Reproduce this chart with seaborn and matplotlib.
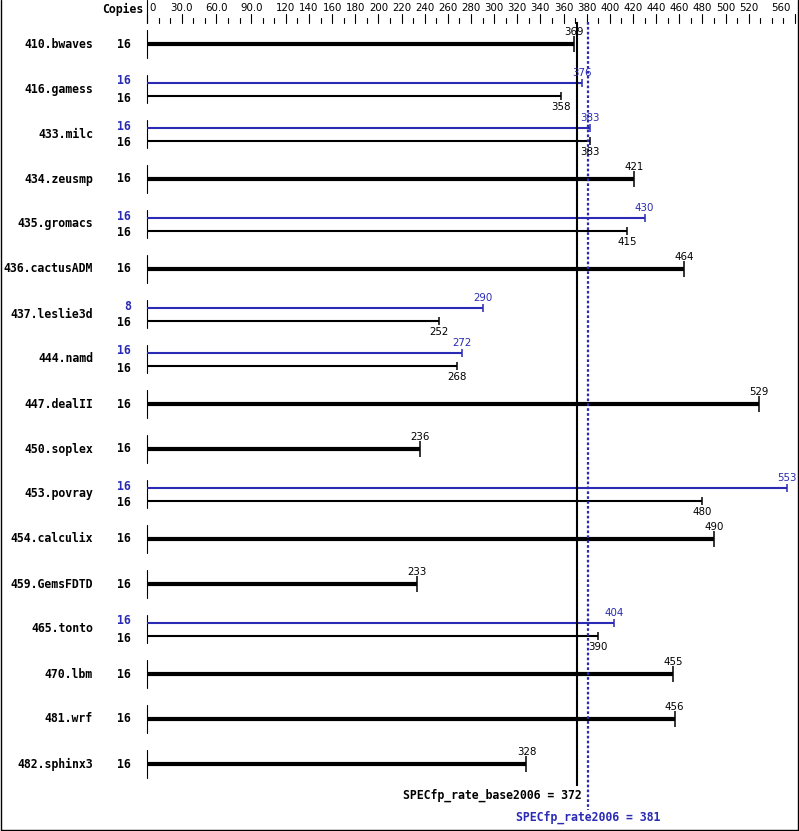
import numpy as np
import pandas as pd
import matplotlib
matplotlib.use("Agg")
import matplotlib.pyplot as plt
import seaborn as sns

# ============================================================
# DATA (SPECfp_rate2006 per-benchmark ratios)
# ============================================================
benchmarks = ["410.bwaves", "416.gamess", "433.milc", "434.zeusmp", "435.gromacs",
              "436.cactusADM", "437.leslie3d", "444.namd", "447.dealII", "450.soplex",
              "453.povray", "454.calculix", "459.GemsFDTD", "465.tonto", "470.lbm",
              "481.wrf", "482.sphinx3"]
base_ratio = [369, 358, 383, 421, 415, 464, 252, 268, 529, 236, 480, 490, 233, 390, 455, 456, 328]
peak_ratio = [np.nan, 376, 383, np.nan, 430, np.nan, 290, 272, np.nan, np.nan,
              553, np.nan, np.nan, 404, np.nan, np.nan, np.nan]
base_copies = [16] * 17
peak_copies = [np.nan, 16, 16, np.nan, 16, np.nan, 8, 16, np.nan, np.nan,
               16, np.nan, np.nan, 16, np.nan, np.nan, np.nan]

tick_values = [0, 30, 60, 90] + list(range(120, 521, 20)) + [560]
tick_labels = ["0", "30.0", "60.0", "90.0"] + [str(v) for v in range(120, 521, 20)] + ["560"]

base_mean = 372
peak_mean = 381

df = pd.DataFrame({
    "name": benchmarks,
    "base": base_ratio,
    "peak": peak_ratio,
    "base_copies": base_copies,
    "peak_copies": peak_copies,
})

# ============================================================
# LAYOUT (pixel geometry of the 799x831 canvas)
# ============================================================
W, H = 799, 831
X0 = 147          # pixel of ratio 0
SCALE = 1.157     # pixels per ratio unit
ROW0, STEP = 44, 45
BLUE = "#2a2ab4"
MONO = "DejaVu Sans Mono"
NUM_FS = 7.4
LAB_FS = 8.3


def px(p):
    return (p - X0) / SCALE


sns.set_theme(style="white")
plt.rcParams["font.family"] = ["DejaVu Sans"]
plt.rcParams["text.color"] = "black"

fig = plt.figure(figsize=(W / 100, H / 100), dpi=100)
ax = fig.add_axes([0, 0, 1, 1])
ax.set_xlim(px(0), px(W))
ax.set_ylim(H, 0)
ax.axis("off")

# top scale
ax.plot([0, 0], [0, 23], color="black", lw=0.8)
for v in range(0, 561, 10):
    top = 14 if v in tick_values else 18
    ax.plot([v, v], [top, 23], color="black", lw=0.8)
for v, lab in zip(tick_values, tick_labels):
    ha = "center"
    x = v
    if v == 0:
        ha, x = "left", px(X0 + 2)
    elif v == 560:
        ha, x = "right", px(791)
    ax.text(x, 8, lab, ha=ha, va="center", fontsize=NUM_FS, color="black")
ax.text(px(143), 9, "Copies", ha="right", va="center", fontsize=LAB_FS,
        family=MONO, weight="bold", color="black")

# rows
for i, row in df.iterrows():
    yc = ROW0 + i * STEP
    ax.text(px(93), yc, row["name"], ha="right", va="center", fontsize=LAB_FS,
            family=MONO, weight="bold", color="black")
    ax.plot([0, 0], [yc - 14, yc + 14], color="black", lw=0.8)
    if np.isnan(row["peak"]):
        ax.hlines(yc, 0, row["base"], color="black", lw=3.0)
        ax.vlines(row["base"], yc - 8, yc + 8, color="black", lw=1.1)
        ax.text(row["base"], yc - 12, f"{row['base']:.0f}", ha="center", va="center",
                fontsize=NUM_FS, color="black")
        ax.text(px(131), yc, f"{row['base_copies']:.0f}", ha="right", va="center",
                fontsize=LAB_FS, family=MONO, weight="bold", color="black")
    else:
        yp, yb = yc - 6, yc + 7
        ax.hlines(yp, 0, row["peak"], color=BLUE, lw=1.5)
        ax.vlines(row["peak"], yp - 4, yp + 4, color=BLUE, lw=1.1)
        ax.hlines(yb, 0, row["base"], color="black", lw=1.5)
        ax.vlines(row["base"], yb - 4, yb + 4, color="black", lw=1.1)
        ax.text(row["peak"], yc - 16, f"{row['peak']:.0f}", ha="center", va="center",
                fontsize=NUM_FS, color=BLUE)
        ax.text(row["base"], yc + 18, f"{row['base']:.0f}", ha="center", va="center",
                fontsize=NUM_FS, color="black")
        ax.text(px(131), yp - 2, f"{row['peak_copies']:.0f}", ha="right", va="center",
                fontsize=LAB_FS, family=MONO, weight="bold", color=BLUE)
        ax.text(px(131), yb + 2, f"{row['base_copies']:.0f}", ha="right", va="center",
                fontsize=LAB_FS, family=MONO, weight="bold", color="black")

# geometric means
ax.vlines(base_mean, 22, 786, color="black", lw=1.5)
ax.vlines(peak_mean, 22, 810, color=BLUE, lw=1.6, linestyles=(0, (1.2, 1)))
ax.text(base_mean + 4 / SCALE, 795, f"SPECfp_rate_base2006 = {base_mean}", ha="right",
        va="center", fontsize=LAB_FS, family=MONO, weight="bold", color="black")
ax.text(peak_mean, 817, f"SPECfp_rate2006 = {peak_mean}", ha="center", va="center",
        fontsize=LAB_FS, family=MONO, weight="bold", color=BLUE)

# frame
ax.plot([px(0.5), px(0.5)], [0, H - 1.5], color="black", lw=1.0)
ax.plot([px(797.5), px(797.5)], [0, H - 1.5], color="black", lw=1.0)
ax.plot([px(0.5), px(797.5)], [H - 1.5, H - 1.5], color="black", lw=1.0)

fig.savefig("out.png", dpi=100)
